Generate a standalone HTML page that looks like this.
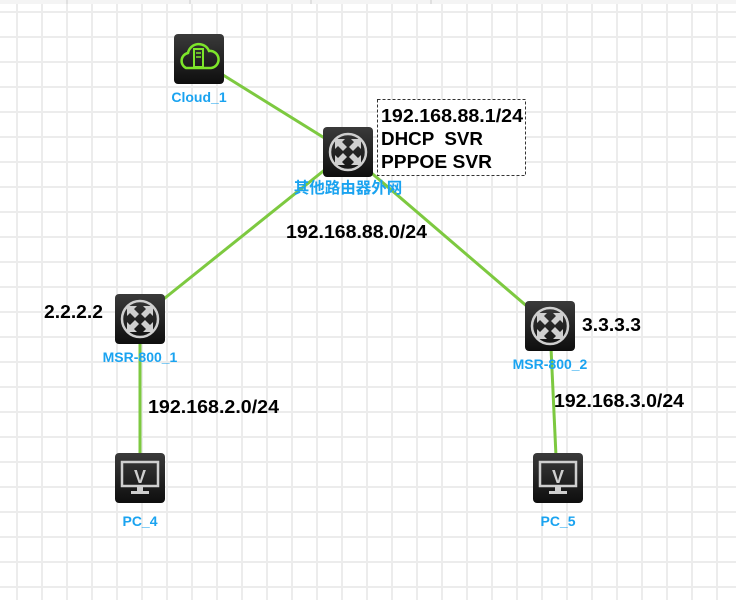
<!DOCTYPE html>
<html><head><meta charset="utf-8"><style>
body{margin:0;width:736px;height:600px;overflow:hidden;background:#fff}
svg{display:block}
.l{font-family:"Liberation Sans","Noto Sans CJK SC",sans-serif;font-weight:bold;font-size:14px;fill:#1aa3f0}
.c{font-family:"Liberation Sans","Noto Sans CJK SC",sans-serif;font-weight:bold;font-size:15.5px;fill:#1aa3f0}
.t{font-family:"Liberation Sans",sans-serif;font-weight:bold;font-size:18px;fill:#000;white-space:pre}
</style></head><body>
<svg width="736" height="600" viewBox="0 0 736 600">
<defs>
<pattern id="g" x="16" y="11" width="25" height="25" patternUnits="userSpaceOnUse">
<rect x="0" y="0" width="25" height="2" fill="#ececec"/>
<rect x="0" y="0" width="2" height="25" fill="#ececec"/>
</pattern>
<linearGradient id="bg" x1="0" y1="0" x2="0" y2="1"><stop offset="0" stop-color="#3a3a3a"/><stop offset="1" stop-color="#0e0e0e"/></linearGradient>
<g id="rt">
<rect x="0" y="0" width="50" height="50" rx="4" fill="url(#bg)"/>
<circle cx="25" cy="25" r="18" fill="none" stroke="#cfcfcf" stroke-width="2.5"/>
<g fill="#cfcfcf">
<path d="M12 12l10 0-3 3 5 5-4 4-5-5-3 3z"/>
<path d="M38 12l0 10-3-3-5 5-4-4 5-5-3-3z"/>
<path d="M12 38l0-10 3 3 5-5 4 4-5 5 3 3z"/>
<path d="M38 38l-10 0 3-3-5-5 4-4 5 5 3-3z"/>
</g>
</g>
<g id="pc">
<rect x="0" y="0" width="50" height="50" rx="4" fill="url(#bg)"/>
<rect x="7" y="9" width="36" height="24" fill="none" stroke="#cfcfcf" stroke-width="2.5"/>
<rect x="22" y="34" width="6" height="4" fill="#cfcfcf"/>
<rect x="16" y="38" width="18" height="3" fill="#cfcfcf"/>
<text x="25" y="30" text-anchor="middle" font-family="Liberation Sans" font-weight="bold" font-size="18" fill="#cfcfcf">V</text>
</g>
</defs>
<rect width="736" height="600" fill="url(#g)"/>
<rect width="736" height="4" fill="#f4f4f4"/>
<path d="M67 0V4M190 0V4M311 0V4M431 0V4" stroke="#ccc"/>
<g stroke="#7dc940" stroke-width="3" fill="none">
<line x1="215" y1="70" x2="347" y2="152"/>
<line x1="347" y1="152" x2="140" y2="318"/>
<line x1="347" y1="152" x2="550" y2="326"/>
<line x1="140" y1="318" x2="140" y2="478"/>
<line x1="550" y1="326" x2="557" y2="478"/>
</g>
<rect x="174" y="34" width="50" height="50" rx="4" fill="url(#bg)"/>
<path d="M186 68a8 8 0 0 1 2-15a11 11 0 0 1 21-2a8.5 8.5 0 0 1 2 17z" fill="none" stroke="#7de62a" stroke-width="2.5"/>
<rect x="194" y="49" width="9" height="18" fill="none" stroke="#7de62a" stroke-width="2"/>
<path d="M196 53h5M196 57h5" stroke="#7de62a" stroke-width="1.5"/>
<use href="#rt" x="323" y="127"/>
<use href="#rt" x="115" y="294"/>
<use href="#rt" x="525" y="301"/>
<use href="#pc" x="115" y="453"/>
<use href="#pc" x="533" y="453"/>
<text class="l" x="199" y="102" text-anchor="middle">Cloud_1</text>
<text class="c" x="348" y="193" text-anchor="middle">其他路由器外网</text>
<text class="l" x="140" y="362" text-anchor="middle">MSR-800_1</text>
<text class="l" x="550" y="369" text-anchor="middle">MSR-800_2</text>
<text class="l" x="140" y="526" text-anchor="middle">PC_4</text>
<text class="l" x="558" y="526" text-anchor="middle">PC_5</text>
<rect x="377.5" y="99.5" width="148" height="76" fill="#fff" stroke="#333" stroke-dasharray="3,2"/>
<text class="t" x="381" y="122" textLength="142" lengthAdjust="spacingAndGlyphs">192.168.88.1/24</text>
<text class="t" x="381" y="145" textLength="102" lengthAdjust="spacingAndGlyphs">DHCP  SVR</text>
<text class="t" x="381" y="168" textLength="111" lengthAdjust="spacingAndGlyphs">PPPOE SVR</text>
<text class="t" x="286" y="238" textLength="141" lengthAdjust="spacingAndGlyphs">192.168.88.0/24</text>
<text class="t" x="44" y="318" textLength="59" lengthAdjust="spacingAndGlyphs">2.2.2.2</text>
<text class="t" x="582" y="331" textLength="59" lengthAdjust="spacingAndGlyphs">3.3.3.3</text>
<text class="t" x="148" y="413" textLength="131" lengthAdjust="spacingAndGlyphs">192.168.2.0/24</text>
<text class="t" x="554" y="407" textLength="130" lengthAdjust="spacingAndGlyphs">192.168.3.0/24</text>
</svg>
</body></html>
